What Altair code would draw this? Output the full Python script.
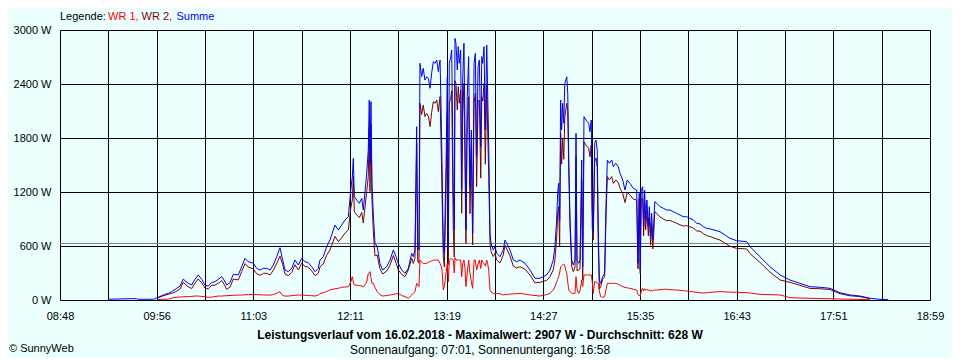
import altair as alt
import pandas as pd

# ---- data (time in minutes after midnight, power in W) ----
t_min = [561.7,578.4,581.9,582.3,593.5,597.0,600.5,604.1,606.4,608.8,612.3,614.6,616.5,618.1,620.5,622.8,625.1,627.5,629.8,632.2,634.5,636.9,639.2,641.6,643.2,645.1,647.4,649.7,653.2,655.6,657.9,660.2,663.8,666.1,668.5,670.8,673.2,675.5,677.8,680.2,682.5,684.4,686.0,688.3,690.7,693.0,695.4,697.7,700.1,702.4,704.8,707.1,709.4,710.6,712.9,715.3,717.6,721.1,723.5,725.8,728.2,730.5,732.2,733.3,734.0,734.7,736.4,738.2,739.9,741.0,743.4,744.5,745.2,745.7,746.4,747.1,748.0,749.2,750.8,752.7,754.6,757.4,759.8,762.1,764.0,765.6,768.0,770.3,772.6,775.0,776.1,777.3,778.5,779.2,780.1,780.8,782.0,783.1,784.3,785.5,786.7,787.9,789.0,790.2,791.4,792.6,793.7,794.9,795.6,796.3,797.2,797.9,799.1,800.0,800.7,801.4,802.4,803.1,804.2,804.9,805.4,806.1,807.0,807.7,808.4,809.4,810.1,810.8,811.7,812.4,813.1,814.0,815.0,815.9,816.9,817.8,818.8,819.7,820.6,821.6,822.5,823.5,824.2,824.9,825.8,826.7,827.7,828.4,829.1,830.0,830.7,832.3,833.5,834.7,837.0,839.3,840.5,841.7,844.0,846.4,848.7,851.1,854.6,858.1,861.6,865.1,869.8,872.1,874.4,875.6,876.8,877.5,878.2,878.9,879.6,880.3,881.0,881.8,882.5,883.2,883.9,884.6,885.3,886.2,887.4,888.5,889.7,890.4,891.1,892.3,893.2,894.4,895.1,896.0,897.4,898.3,899.3,900.2,901.1,901.8,902.5,903.5,904.4,905.3,906.0,906.8,907.7,909.1,910.5,911.5,912.4,913.8,915.5,916.6,918.3,920.1,921.3,923.2,924.8,926.4,928.3,930.6,933.0,933.9,934.8,935.5,936.2,937.2,937.9,938.6,939.3,940.2,941.2,941.9,942.8,943.5,944.3,945.0,945.7,947.1,949.4,951.7,954.1,956.4,958.7,961.1,963.4,965.7,968.1,970.4,972.8,975.2,977.5,979.8,982.2,984.5,991.5,998.5,1003.2,1010.3,1012.6,1019.6,1026.6,1033.7,1040.7,1047.7,1054.7,1061.7,1068.8,1075.8,1082.8,1089.8,1096.9,1103.9,1109.7]

summe = [8,15,15,8,8,30,55,74,93,118,155,233,204,185,167,230,278,230,167,155,193,204,230,259,222,167,193,285,278,370,463,426,407,352,333,352,352,333,389,481,581,444,333,315,352,444,389,463,426,415,370,315,352,444,481,593,667,833,778,833,889,926,1222,1370,1574,1148,1111,1074,1130,1000,1407,1667,2222,1519,2204,1296,963,630,593,407,333,370,444,556,481,407,333,296,352,519,481,556,1926,593,556,2630,2481,2574,2444,2481,2463,2352,2519,2648,2630,2667,2537,2667,2148,1519,593,519,1481,2481,593,2630,2704,2778,1222,778,2907,2852,2556,2815,2630,2778,1222,2444,2852,1889,778,2259,2704,1259,1889,741,2630,2741,1593,2593,2667,1704,2704,2630,2815,1889,2833,2259,1704,741,630,556,593,519,481,556,667,630,556,444,426,444,407,333,241,241,278,333,444,593,889,1185,1296,889,2222,1889,2185,1963,2407,2444,2481,2296,1556,889,444,389,444,1852,444,407,444,1556,370,2037,2000,1981,1963,1870,2000,1000,741,1741,1778,1667,815,222,185,259,296,1074,1556,1519,1556,1481,1519,1481,1407,1333,1222,1333,1296,1241,1222,407,1185,333,1222,1259,815,1222,889,1111,815,1037,704,963,667,852,1093,1074,1037,1019,1000,1000,981,963,944,926,926,907,889,852,845,815,796,790,759,685,659,648,593,481,370,278,222,185,148,141,130,81,56,44,19,7,4]

wr1 = [None,None,None,None,None,5,8,10,19,30,33,35,37,38,40,44,44,40,35,30,32,38,44,44,46,48,50,52,55,55,58,60,63,60,58,56,55,55,60,75,93,50,44,44,48,52,55,55,52,50,48,44,55,74,80,95,111,125,130,141,145,148,200,259,200,167,165,160,156,145,200,296,300,315,250,185,185,140,93,60,44,50,56,62,68,74,50,37,19,56,75,93,185,160,148,444,420,407,407,407,420,426,435,444,444,444,444,407,380,333,111,150,300,407,200,440,463,455,444,300,470,444,444,444,444,444,259,400,444,350,148,300,444,300,200,130,444,444,333,400,444,350,444,420,407,380,444,400,333,111,90,74,74,74,70,56,60,62,65,68,70,74,65,56,50,44,60,74,110,148,200,230,259,300,370,380,390,400,380,333,296,200,111,90,74,74,74,259,120,74,100,222,150,278,278,278,278,278,278,200,74,204,200,190,185,100,37,30,37,120,185,185,185,185,185,175,165,148,140,135,130,120,111,60,56,40,100,130,100,125,110,120,100,115,95,111,100,111,111,111,115,119,119,115,113,111,108,104,100,93,90,85,80,78,80,85,93,88,85,81,78,63,60,56,26,22,19,16,14,11,9,6,4,None,None]

wr2 = [None,None,None,None,None,25,47,64,74,88,122,198,167,147,127,186,234,190,132,125,161,166,186,215,176,119,143,233,223,315,405,366,344,292,275,296,297,278,329,406,488,394,289,271,304,392,334,408,374,365,322,271,297,370,401,498,556,708,648,692,744,778,1022,1111,1374,981,946,914,974,855,1207,1371,1922,1204,1954,1111,778,490,500,347,289,320,388,494,413,333,283,259,333,463,406,463,1741,433,408,2186,2061,2167,2037,2074,2043,1926,2084,2204,2186,2223,2093,2260,1768,1186,482,369,1181,2074,393,2190,2241,2323,778,478,2437,2408,2112,2371,2186,2334,963,2044,2408,1539,630,1959,2260,959,1689,611,2186,2297,1260,2193,2223,1354,2260,2210,2408,1509,2389,1859,1371,630,540,482,519,445,411,500,607,568,491,376,356,370,342,277,191,197,218,259,334,445,689,955,1037,589,1852,1509,1795,1563,2027,2111,2185,2096,1445,799,370,315,370,1593,324,333,344,1334,220,1759,1722,1703,1685,1592,1722,800,667,1537,1578,1477,630,122,148,229,259,954,1371,1334,1371,1296,1334,1306,1242,1185,1082,1198,1166,1121,1111,347,1129,293,1122,1129,715,1097,779,991,715,922,609,852,567,741,982,963,922,900,881,885,868,852,836,822,826,814,799,767,765,737,716,705,666,597,574,567,515,418,310,222,196,163,129,125,116,70,47,38,15,None,None]

x_labels = ["08:48", "09:56", "11:03", "12:11", "13:19", "14:27", "15:35", "16:43", "17:51", "18:59"]
y_ticks = [0, 600, 1200, 1800, 2400, 3000]
avg_w = 628
x_start, x_end = 528, 1139

title_txt = "Leistungsverlauf vom 16.02.2018 - Maximalwert: 2907 W - Durchschnitt: 628 W"
sub_txt = "Sonnenaufgang: 07:01, Sonnenuntergang: 16:58"

assert len(t_min) == len(summe) == len(wr1) == len(wr2)

rows = []
for name, vals in [("Summe", summe), ("WR 2", wr2), ("WR 1", wr1)]:
    for tt, v in zip(t_min, vals):
        if v is not None:
            rows.append({"t": tt, "w": v, "s": name})
df = pd.DataFrame(rows)

FONT = "Liberation Sans"
n_grid = 18
step = (x_end - x_start) / n_grid
grid_vals = [x_start + k * step for k in range(n_grid + 1)]
label_arr = [x_labels[k // 2] if k % 2 == 0 else "" for k in range(n_grid + 1)]
label_expr = "[" + ",".join("'%s'" % s for s in label_arr) + "][round((datum.value - %d) / %.6f)]" % (x_start, step)

x_enc = alt.X("t:Q", scale=alt.Scale(domain=[x_start, x_end], nice=False, zero=False),
              axis=alt.Axis(values=grid_vals, labelExpr=label_expr, title=None, grid=True,
                            ticks=False, domain=False, labelPadding=10, labelFontSize=11,
                            labelFont=FONT, labelColor="black", gridColor="black",
                            gridOpacity=1, gridWidth=1, labelAngle=0, labelOverlap=False,
                            labelFlush=False))
y_enc = alt.Y("w:Q", scale=alt.Scale(domain=[0, 3000], nice=False),
              axis=alt.Axis(values=y_ticks, labelExpr="datum.value + ' W'", title=None,
                            grid=True, ticks=False, domain=False, labelPadding=9,
                            labelFontSize=11, labelFont=FONT, labelColor="black",
                            gridColor="black", gridOpacity=1, gridWidth=1))

base = alt.Chart(df).encode(x=x_enc, y=y_enc)
lines = []
for name, col in [("WR 2", "#800000"), ("Summe", "#0000FF"), ("WR 1", "#FF0000")]:
    lines.append(base.transform_filter(alt.datum.s == name)
                 .mark_line(color=col, strokeWidth=1))

avg_rule = alt.Chart(pd.DataFrame({"w": [avg_w]})).mark_rule(
    color="#808080", strokeWidth=1).encode(y=alt.Y("w:Q"))


def txt(s, x, y, color="black", bold=False, align="left", size=11):
    return alt.Chart(pd.DataFrame({"label": [s]})).mark_text(
        align=align, baseline="middle", font=FONT, fontSize=size,
        fontWeight="bold" if bold else "normal", color=color
    ).encode(x=alt.value(x), y=alt.value(y), text="label:N")


texts = [
    txt("Legende:", 0, -13),
    txt("WR 1,", 48, -13, color="#FF0000"),
    txt("WR 2,", 81.5, -13, color="#800000"),
    txt("Summe", 116.5, -13, color="#0000FF"),
    txt(title_txt, 420, 305, bold=True, align="center", size=12),
    txt(sub_txt, 420, 320, align="center", size=12),
    txt("\u00a9 SunnyWeb", -51, 319),
]

chart = alt.layer(avg_rule, *lines, *texts).properties(
    width=870, height=270,
    autosize=alt.AutoSizeParams(type="none"),
    padding={"left": 52, "top": 22, "right": 22, "bottom": 58},
    background="#EBFFFF",
).configure_view(stroke=None)

chart.save("out.html", embed_options={"renderer": "svg", "actions": False})
